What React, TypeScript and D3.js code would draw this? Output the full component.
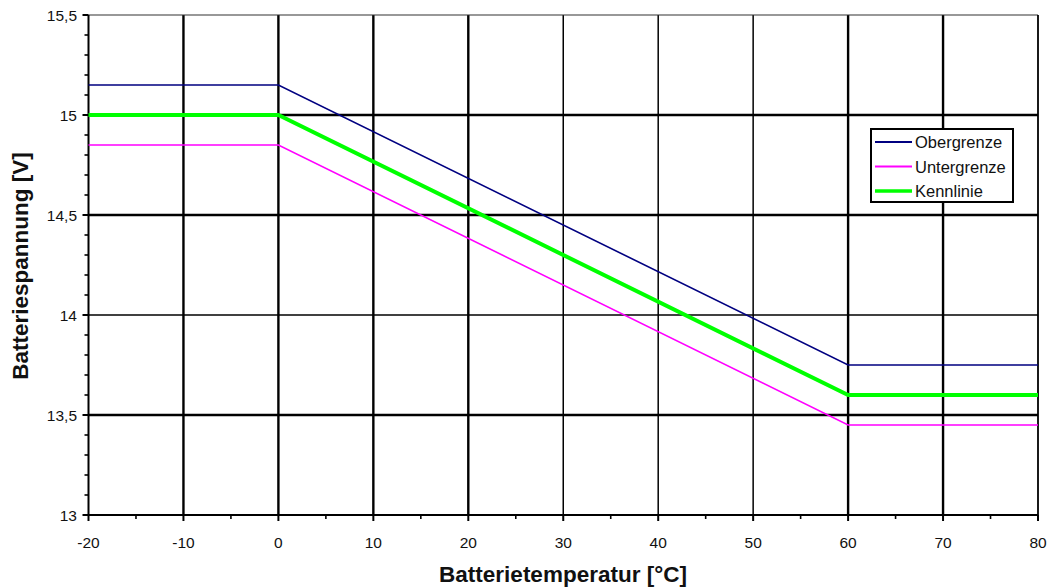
import React from "react";
import * as d3 from "d3";

const temps = [-20, 0, 60, 80];
const obergrenze = [15.15, 15.15, 13.75, 13.75];
const untergrenze = [14.85, 14.85, 13.45, 13.45];
const kennlinie = [15, 15, 13.6, 13.6];
const xTicks = [-20, -10, 0, 10, 20, 30, 40, 50, 60, 70, 80];
const yTicks = [13, 13.5, 14, 14.5, 15, 15.5];
const seriesNames = ["Obergrenze", "Untergrenze", "Kennlinie"];

const W = 1049, H = 587;
const left = 88.5, right = 1038, top = 15, bottom = 515;

export default function App() {
  const x = d3.scaleLinear().domain([-20, 80]).range([left, right]);
  const y = d3.scaleLinear().domain([13, 15.5]).range([bottom, top]);
  const line = d3.line<[number, number]>().x(d => x(d[0])).y(d => y(d[1]));
  const series = [
    { name: seriesNames[0], vals: obergrenze, color: "#000080", w: 1.6 },
    { name: seriesNames[1], vals: untergrenze, color: "#ff00ff", w: 1.6 },
    { name: seriesNames[2], vals: kennlinie, color: "#00ff00", w: 4 },
  ];
  const thinX = new Set([30, 40, 50]);
  const thinY = new Set([14]);
  const xMinor = d3.range(-15, 80, 10);
  const yMinor = d3.range(13, 15.5001, 0.1).filter(v => Math.abs(v * 2 - Math.round(v * 2)) > 0.01);
  const font = "'Liberation Sans', Arial, sans-serif";
  return (
    <svg width={W} height={H} style={{ position: "absolute", left: 0, top: 0, background: "#fff" }}>
      {xTicks.slice(1, -1).map(t => (
        <line key={"gx" + t} x1={x(t)} x2={x(t)} y1={top} y2={bottom} stroke="#000" strokeWidth={thinX.has(t) ? 1.5 : 2.4} />
      ))}
      {yTicks.slice(1, -1).map(t => (
        <line key={"gy" + t} x1={left} x2={right} y1={y(t)} y2={y(t)} stroke="#000" strokeWidth={thinY.has(t) ? 1.5 : 2.4} />
      ))}
      <line x1={left} x2={right} y1={top} y2={top} stroke="#333" strokeWidth={1.2} />
      <line x1={right} x2={right} y1={top} y2={bottom} stroke="#000" strokeWidth={1.8} />
      <line x1={left} x2={left} y1={top} y2={bottom} stroke="#000" strokeWidth={2} />
      <line x1={left} x2={right} y1={bottom} y2={bottom} stroke="#000" strokeWidth={2} />
      {yTicks.map(t => (
        <g key={"yt" + t}>
          <line x1={left - 6} x2={left} y1={y(t)} y2={y(t)} stroke="#000" strokeWidth={2} />
          <text x={77} y={y(t) + 5.5} textAnchor="end" fontFamily={font} fontSize={15.5} fill="#111">
            {String(t).replace(".", ",")}
          </text>
        </g>
      ))}
      {yMinor.map(t => (
        <line key={"ym" + t} x1={left - 4} x2={left} y1={y(t)} y2={y(t)} stroke="#000" strokeWidth={1.6} />
      ))}
      {xTicks.map(t => (
        <g key={"xt" + t}>
          <line x1={x(t)} x2={x(t)} y1={bottom} y2={bottom + 6} stroke="#000" strokeWidth={2} />
          <text x={x(t)} y={548} textAnchor="middle" fontFamily={font} fontSize={15.5} fill="#111">{t}</text>
        </g>
      ))}
      {xMinor.map(t => (
        <line key={"xm" + t} x1={x(t)} x2={x(t)} y1={bottom} y2={bottom + 4} stroke="#000" strokeWidth={1.6} />
      ))}
      {series.map(s => (
        <path key={s.name} d={line(temps.map((t, i) => [t, s.vals[i]]) as [number, number][]) || ""} fill="none" stroke={s.color} strokeWidth={s.w} />
      ))}
      <rect x={871} y={129} width={142} height={73} fill="#fff" stroke="#000" strokeWidth={2} />
      {series.map((s, i) => (
        <g key={"lg" + s.name}>
          <line x1={875} x2={912} y1={142 + i * 24.5} y2={142 + i * 24.5} stroke={s.color} strokeWidth={s.w === 4 ? 3.5 : 2} />
          <text x={915} y={148 + i * 24.5} fontFamily={font} fontSize={16.5} fill="#111">{s.name}</text>
        </g>
      ))}
      <text x={563} y={582} textAnchor="middle" fontFamily={font} fontSize={22.5} fontWeight="bold" fill="#111">
        Batterietemperatur [°C]
      </text>
      <text transform={`translate(28,266) rotate(-90)`} textAnchor="middle" fontFamily={font} fontSize={22.5} fontWeight="bold" fill="#111">
        Batteriespannung [V]
      </text>
    </svg>
  );
}
